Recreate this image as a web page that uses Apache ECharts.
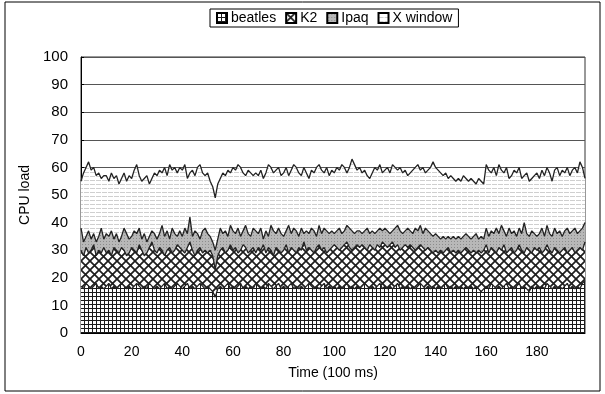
<!DOCTYPE html>
<html>
<head>
<meta charset="utf-8">
<script src="https://cdn.jsdelivr.net/npm/echarts@6/dist/echarts.min.js"></script>
<style>
  html, body { margin: 0; padding: 0; background: #fff; }
  #chart { width: 605px; height: 394px; }
</style>
</head>
<body>
<div id="chart"></div>
<script>
// stacked tops (cumulative CPU load), one per 100 ms sample
var beatlesTop = [
  17,16,18,17,16,17,18,16,17,16, 17,18,16,17,16,17,18,17,16,17,
  16,17,18,17,16,17,16,18,17,16, 17,16,17,18,16,17,16,17,18,17,
  16,17,18,16,17,16,17,18,17,16, 17,16,15,13,16,17,16,17,18,16,
  17,16,17,18,16,17,16,17,16,18, 17,16,17,16,18,17,16,17,18,16,
  17,16,17,18,16,17,16,17,16,17, 18,17,16,17,16,17,18,16,17,16,
  17,16,17,16,17,18,16,17,16,17, 16,17,18,17,16,17,16,17,18,16,
  17,16,17,16,17,18,16,17,16,17, 16,17,16,17,18,17,16,17,16,17,
  16,17,16,17,18,16,17,16,17,16, 17,16,17,16,17,16,17,16,15,16,
  17,16,18,17,16,17,16,17,18,16, 17,16,17,18,16,17,16,15,17,16,
  17,16,17,16,18,17,16,17,16,17, 16,17,18,16,17,16,17,16,18,19
];
var k2Top = [
  30,28,31,29,30,32,28,30,29,31, 29,30,28,31,30,29,31,30,28,29,
  31,30,29,32,30,28,29,31,33,30, 29,31,30,28,30,31,29,30,32,31,
  30,29,31,33,30,28,30,31,29,30, 29,30,28,23,28,30,31,29,30,32,
  30,31,29,30,32,31,29,30,31,29, 31,30,32,29,31,30,28,31,30,29,
  30,32,29,31,30,29,31,30,33,30, 31,30,29,31,32,30,31,29,30,31,
  32,31,30,31,32,33,31,30,31,32, 31,32,31,30,32,31,30,32,31,33,
  32,31,32,33,31,32,30,31,32,31, 32,31,30,31,32,31,30,31,30,29,
  30,29,30,29,30,31,29,30,29,30, 29,30,31,30,29,30,29,30,29,30,
  32,29,31,30,29,31,30,32,29,30, 31,29,30,32,30,29,31,30,29,31,
  30,31,29,30,32,30,29,31,30,29, 30,31,29,30,31,29,30,31,30,33
];
var ipaqTop = [
  38,33,35,37,34,36,33,35,38,34, 36,35,37,34,36,33,35,38,36,34,
  35,37,36,38,34,36,33,35,37,36, 34,36,39,35,37,34,38,36,35,37,
  35,38,36,42,35,37,36,34,37,38, 36,35,33,30,34,38,36,37,35,39,
  37,36,38,35,37,39,36,35,38,37, 36,38,34,37,35,39,37,36,38,36,
  35,37,39,36,38,37,35,38,36,37, 36,38,37,35,39,36,38,37,36,37,
  36,37,38,36,37,39,38,37,36,37, 37,36,37,38,36,37,36,37,38,37,
  38,37,36,37,38,39,37,36,37,38, 37,36,38,37,39,36,38,37,36,35,
  36,35,34,35,34,35,34,35,34,35, 34,35,36,35,34,35,36,34,35,34,
  38,35,37,36,38,36,39,37,35,38, 36,37,35,38,36,40,36,35,37,36,
  35,36,38,35,39,36,35,38,36,37, 35,37,38,36,37,38,36,37,38,40
];
var xwindowTop = [
  55,58,60,62,59,60,57,58,56,57, 57,55,58,56,57,54,56,58,55,57,
  56,59,61,57,55,56,57,54,56,58, 57,59,58,60,57,61,59,60,58,60,
  59,61,56,58,59,57,60,61,58,57, 58,55,53,49,54,56,58,57,59,58,
  60,59,61,60,58,57,59,58,57,58, 57,59,56,58,61,60,58,59,60,57,
  58,60,57,59,61,60,58,57,60,58, 56,59,58,60,61,59,58,60,57,59,
  58,60,59,61,60,58,60,63,61,59, 60,58,59,57,56,58,60,59,61,58,
  59,60,58,61,60,59,60,58,59,57, 58,59,60,61,59,60,58,59,60,62,
  60,59,58,57,58,56,57,56,55,56, 55,57,56,55,56,55,54,56,55,54,
  61,59,58,60,57,61,59,58,60,56, 57,59,58,60,56,57,58,55,56,57,
  58,56,59,57,60,58,55,59,60,57, 59,58,60,57,59,60,58,62,60,56
];
var names = ['beatles', 'K2', 'Ipaq', 'X window'];
var times = [];
for (var i = 0; i < xwindowTop.length; i++) times.push(i);

// small tiles used as fills, like the old b/w print
function tile(w, h, draw) {
  var c = document.createElement('canvas');
  c.width = w; c.height = h;
  var ctx = c.getContext('2d');
  ctx.fillStyle = '#fff';
  ctx.fillRect(0, 0, w, h);
  draw(ctx);
  return { image: c, repeat: 'repeat' };
}
var gridFill = tile(4, 4, function (ctx) {
  ctx.fillStyle = '#1a1a1a';
  ctx.fillRect(0, 0, 4, 1);
  ctx.fillRect(0, 0, 1, 4);
});
var crossFill = tile(9, 9, function (ctx) {
  ctx.strokeStyle = '#1e1e1e';
  ctx.lineWidth = 1.7;
  ctx.beginPath();
  ctx.moveTo(-1, -1); ctx.lineTo(10, 10);
  ctx.moveTo(10, -1); ctx.lineTo(-1, 10);
  ctx.stroke();
});
var dotFill = tile(3, 3, function (ctx) {
  ctx.fillStyle = '#b8b8b8';
  ctx.fillRect(0, 0, 3, 3);
  ctx.fillStyle = '#8c8c8c';
  ctx.fillRect(1, 1, 1, 1);
});
var lineFill = tile(6, 4, function (ctx) {
  ctx.fillStyle = '#cfcfcf';
  ctx.fillRect(0, 0, 5, 1);
});

function areaSeries(name, data, fill, z) {
  return {
    name: name,
    type: 'line',
    data: data,
    z: z,
    showSymbol: false,
    symbol: 'none',
    animation: false,
    lineStyle: { color: '#222', width: 1.3 },
    itemStyle: { color: fill, borderColor: '#000', borderWidth: 1 },
    areaStyle: { color: fill, opacity: 1, origin: 'start' }
  };
}

var myChart = echarts.init(document.getElementById('chart'));
var option = {
  backgroundColor: '#fff',
  animation: false,
  textStyle: { fontFamily: 'Liberation Sans, Arial, sans-serif', color: '#000' },
  graphic: [{
    type: 'rect',
    shape: { x: 5, y: 2, width: 595, height: 389 },
    style: { fill: 'none', stroke: '#000', lineWidth: 1 },
    silent: true
  }],
  legend: {
    data: names,
    left: 210,
    top: 9,
    padding: [2, 6],
    itemGap: 9,
    itemWidth: 10,
    itemHeight: 10,
    icon: 'rect',
    borderColor: '#000',
    borderWidth: 1,
    textStyle: { fontSize: 14, color: '#000', padding: [0, 0, 0, -1] }
  },
  grid: {
    left: 81, right: 20, top: 57, bottom: 61,
    show: true, borderColor: '#333', borderWidth: 1
  },
  xAxis: {
    type: 'category',
    data: times,
    boundaryGap: false,
    name: 'Time (100 ms)',
    nameLocation: 'middle',
    nameGap: 33,
    nameTextStyle: { fontSize: 14, color: '#000' },
    axisLine: { lineStyle: { color: '#000' } },
    axisTick: { show: false },
    axisLabel: { interval: 19, fontSize: 14, color: '#000', margin: 12 },
    splitLine: { show: false }
  },
  yAxis: {
    type: 'value',
    min: 0, max: 100, interval: 10,
    name: 'CPU load',
    nameLocation: 'middle',
    nameGap: 48,
    nameTextStyle: { fontSize: 14, color: '#000' },
    axisLine: { show: true, lineStyle: { color: '#000' } },
    axisTick: { show: true, length: 3, inside: true, lineStyle: { color: '#000' } },
    axisLabel: { fontSize: 15, color: '#000', margin: 13 },
    splitLine: { show: true, lineStyle: { color: '#555', width: 1 } }
  },
  series: [
    areaSeries(names[0], beatlesTop, gridFill, 5),
    areaSeries(names[1], k2Top, crossFill, 4),
    areaSeries(names[2], ipaqTop, dotFill, 3),
    areaSeries(names[3], xwindowTop, lineFill, 2)
  ]
};
myChart.setOption(option);
</script>
</body>
</html>
